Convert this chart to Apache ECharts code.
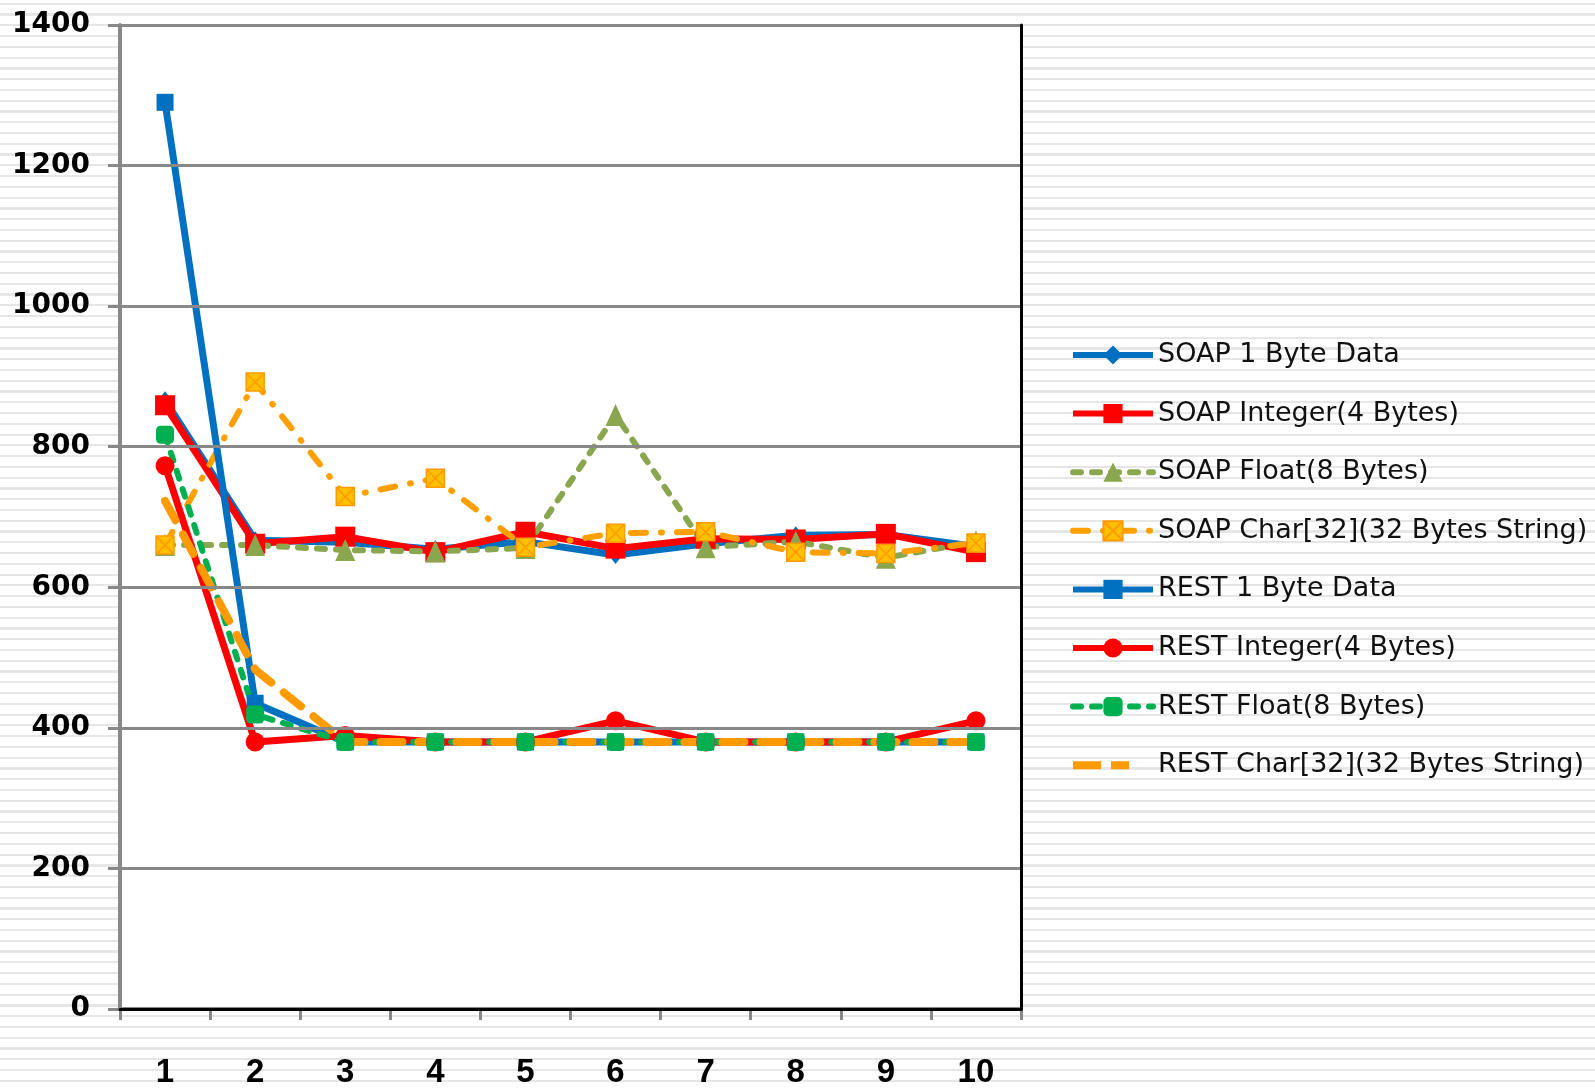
<!DOCTYPE html>
<html>
<head>
<meta charset="utf-8">
<script src="https://cdn.jsdelivr.net/npm/echarts@6/dist/echarts.min.js"></script>
<style>
html,body{margin:0;padding:0;}
#chart{width:1595px;height:1090px;
background:repeating-linear-gradient(to bottom,#ffffff 0px,#ffffff 2.7px,#e6e6e6 2.7px,#e6e6e6 4.9px,#ffffff 4.9px,#ffffff 10.77px);}
</style>
</head>
<body>
<div id="chart"></div>
<script>
var categories = ['1','2','3','4','5','6','7','8','9','10'];
var yTicks = {min: 0, max: 1400, interval: 200};
var seriesNames = [
  'SOAP 1 Byte Data',
  'SOAP Integer(4 Bytes)',
  'SOAP Float(8 Bytes)',
  'SOAP Char[32](32 Bytes String)',
  'REST 1 Byte Data',
  'REST Integer(4 Bytes)',
  'REST Float(8 Bytes)',
  'REST Char[32](32 Bytes String)'
];
var soap1Byte  = [866, 667, 664, 654, 665, 646, 662, 674, 675, 658];
var soapInt    = [859, 662, 672, 650, 679, 655, 669, 668, 676, 650];
var soapFloat  = [660, 660, 653, 651, 656, 845, 657, 665, 642, 665];
var soapChar   = [660, 892, 729, 755, 657, 677, 679, 650, 648, 663];
var rest1Byte  = [1290, 435, 380, 380, 380, 380, 380, 380, 380, 380];
var restInt    = [773, 380, 389, 380, 380, 410, 380, 380, 380, 410];
var restFloat  = [817, 419, 380, 380, 380, 380, 380, 380, 380, 380];
var restChar   = [723, 483, 380, 380, 380, 380, 380, 380, 380, 380];

var BLUE = '#0070C0', RED = '#FF0000', OLIVE = '#8AA64F', GREEN = '#00B050', ORANGE = '#FFA000', ORANGE2 = '#FF9A00';
var xBox = 'path://M0 0L10 0L10 10L0 10Z M0 0L10 10 M10 0L0 10';
var restCharIcon = 'path://M0 0L0.01 0L0.01 0.01Z M80 24L80.01 24L80.01 23.99Z M0 8L28 8L28 16L0 16Z M38 8L56 8L56 16L38 16Z';

var legendData = seriesNames.map(function (n, i) {
  if (i === 7) return {name: n, icon: restCharIcon, itemStyle: {color: ORANGE2, borderWidth: 0}};
  return {name: n};
});

var chart = echarts.init(document.getElementById('chart'), null, {renderer: 'canvas'});
var option = {
  backgroundColor: 'transparent',
  animation: false,
  grid: {left: 120, right: 574, top: 25, bottom: 81, show: true, backgroundColor: '#ffffff', borderWidth: 0},
  legend: {
    orient: 'vertical', left: 1065, top: 335,
    itemWidth: 80, itemHeight: 24, itemGap: 28.6,
    symbolKeepAspect: true,
    lineStyle: {width: 6},
    textStyle: {fontFamily: 'DejaVu Sans', fontSize: 27, color: '#111', lineHeight: 30},
    data: legendData
  },
  xAxis: [{
    type: 'category', data: categories, boundaryGap: true,
    axisLine: {lineStyle: {color: '#888', width: 4}},
    axisTick: {show: true, inside: false, length: 11, lineStyle: {color: '#888', width: 3}},
    axisLabel: {margin: 47, fontFamily: 'Liberation Sans', fontWeight: 'bold', fontSize: 33, color: '#000'},
    splitLine: {show: false}, z: 5
  }, {
    type: 'category', data: categories, position: 'top',
    axisLine: {lineStyle: {color: '#000', width: 3}},
    axisTick: {show: false}, axisLabel: {show: false}, splitLine: {show: false}, z: 6
  }],
  yAxis: [{
    type: 'value', min: yTicks.min, max: yTicks.max, interval: yTicks.interval,
    axisLine: {show: true, lineStyle: {color: '#888', width: 4}},
    axisTick: {show: true, inside: false, length: 12, lineStyle: {color: '#888', width: 3}},
    axisLabel: {margin: 30, fontFamily: 'DejaVu Sans', fontWeight: 'bold', fontSize: 28, color: '#000',
      formatter: function (v) { return String(v); }},
    splitLine: {show: true, lineStyle: {color: '#888', width: 3}}, z: 5
  }, {
    type: 'value', min: yTicks.min, max: yTicks.max, interval: yTicks.interval, position: 'right',
    axisLine: {show: true, lineStyle: {color: '#000', width: 3}},
    axisTick: {show: false}, axisLabel: {show: false}, splitLine: {show: false}, z: 6
  }],
  series: [
    {name: seriesNames[0], type: 'line', data: soap1Byte, symbol: 'diamond', symbolSize: [14, 18],
     lineStyle: {color: BLUE, width: 7}, itemStyle: {color: BLUE}},
    {name: seriesNames[1], type: 'line', data: soapInt, symbol: 'rect', symbolSize: 20,
     lineStyle: {color: RED, width: 7}, itemStyle: {color: RED}},
    {name: seriesNames[2], type: 'line', data: soapFloat, symbol: 'triangle', symbolSize: [20, 22],
     lineStyle: {color: OLIVE, width: 6, type: [8, 11], cap: 'round'}, itemStyle: {color: OLIVE}},
    {name: seriesNames[3], type: 'line', data: soapChar, symbol: xBox, symbolSize: 18,
     lineStyle: {color: ORANGE, width: 6, type: [15, 15, 1, 15], cap: 'round'},
     itemStyle: {color: '#FFC000', borderColor: ORANGE2, borderWidth: 1.5}},
    {name: seriesNames[4], type: 'line', data: rest1Byte, symbol: 'rect', symbolSize: 17,
     lineStyle: {color: BLUE, width: 7}, itemStyle: {color: BLUE}},
    {name: seriesNames[5], type: 'line', data: restInt, symbol: 'circle', symbolSize: 19,
     lineStyle: {color: RED, width: 7}, itemStyle: {color: RED}},
    {name: seriesNames[6], type: 'line', data: restFloat, symbol: 'roundRect', symbolSize: 18,
     lineStyle: {color: GREEN, width: 6, type: [8, 11], cap: 'round'}, itemStyle: {color: GREEN}},
    {name: seriesNames[7], type: 'line', data: restChar, symbol: 'none',
     lineStyle: {color: ORANGE2, width: 8, type: [22, 16], cap: 'round'}, itemStyle: {color: ORANGE2}}
  ]
};
chart.setOption(option);
</script>
</body>
</html>
